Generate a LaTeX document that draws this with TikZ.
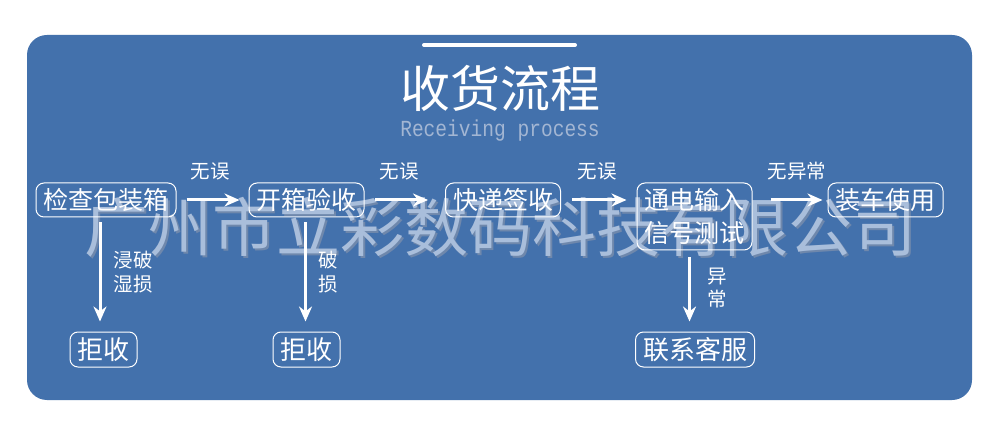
\documentclass[tikz,border=0pt]{standalone}
\usepackage{fontspec}
\newfontfamily\cjk{Noto Sans CJK SC}
\newfontfamily\monofont{Liberation Mono}
\usetikzlibrary{arrows.meta}
\definecolor{bg}{HTML}{4371AC}
\definecolor{wmfill}{HTML}{A9BEDB}
\definecolor{wmshadow}{HTML}{6F88AC}
\definecolor{subcol}{HTML}{A3B6D3}
\tikzset{
  box/.style={draw=white, line width=1pt, rounded corners=8pt, text=white,
    font=\cjk\fontsize{25}{33}\selectfont, inner xsep=7.5pt, inner ysep=4.5pt,
    minimum height=34pt, align=center},
  endbox/.style={box, font=\cjk\fontsize{26}{33}\selectfont, inner xsep=7.5pt, minimum height=35pt},
  arr/.style={white, line width=3pt, -{Stealth[length=15pt, width=13pt]}},
  lbl/.style={text=white, inner sep=0pt, align=center, font=\cjk\fontsize{19.5}{24}\selectfont},
  wm/.style={inner sep=0pt, font=\cjk\fontsize{64}{70}\selectfont}
}
\begin{document}
\begin{tikzpicture}[x=1pt,y=-1pt]
\useasboundingbox (0,0) rectangle (1000,435);
\fill[white] (0,0) rectangle (1000,435);
\fill[bg, rounded corners=20pt] (27,35) rectangle (972,400);
\draw[white, line width=4pt, line cap=round] (424,45) -- (575,45);
\node[text=white, inner sep=0pt, font=\cjk\fontsize{50}{55}\selectfont] (title) at (500,88) {收货流程};
\node[text=subcol, inner sep=0pt, font=\monofont\fontsize{23}{26}\selectfont] (sub) at (500,131) {\scalebox{0.85}[1]{Receiving process}};
% watermark
\node[wm, text=wmshadow] (wms) at (502,229) {广州市立彩数码科技有限公司};
\node[wm, text=wmfill] (wmt) at (500,227) {广州市立彩数码科技有限公司};
% main flow
\node[box] (n1) at (106,200) {检查包装箱};
\node[box] (n2) at (306.5,200) {开箱验收};
\node[box] (n3) at (503,200) {快递签收};
\node[box, minimum height=67pt] (n4) at (694.5,216.5) {通电输入\\信号测试};
\node[box] (n5) at (885.5,200) {装车使用};
\node[endbox] (r1) at (103.5,349.5) {拒收};
\node[endbox] (r2) at (306.5,349.5) {拒收};
\node[endbox] (r3) at (695,349.5) {联系客服};
% horizontal arrows
\draw[arr, shorten <=10pt, shorten >=9pt] (n1) -- (n2);
\draw[arr, shorten <=10pt, shorten >=17pt] (n2) -- (n3);
\draw[arr, shorten <=11pt, shorten >=10pt] (n3) -- (n4.west |- n3.east);
\draw[arr, shorten <=18pt, shorten >=5pt] (n4.east |- n5.west) -- (n5);
\node[lbl] (l1) at (210,171) {无误};
\node[lbl] (l2) at (399,171) {无误};
\node[lbl] (l3) at (597,171) {无误};
\node[lbl] (l4) at (797,171) {无异常};
% vertical arrows
\draw[arr, shorten <=5pt, shorten >=10pt] ([xshift=-6pt]n1.south) -- ([xshift=-6pt]n1.south |- r1.north);
\draw[arr, shorten <=5pt, shorten >=10pt] ([xshift=-1pt]n2.south) -- ([xshift=-1pt]n2.south |- r2.north);
\draw[arr, shorten <=7pt, shorten >=10pt] ([xshift=-5pt]n4.south) -- ([xshift=-5pt]n4.south |- r3.north);
\node[lbl] (v1) at (133,272) {浸破\\湿损};
\node[lbl] (v2) at (328,272) {破\\损};
\node[lbl, font=\cjk\fontsize{19.5}{23}\selectfont] (v3) at (717,288) {异\\常};
\end{tikzpicture}
\end{document}
